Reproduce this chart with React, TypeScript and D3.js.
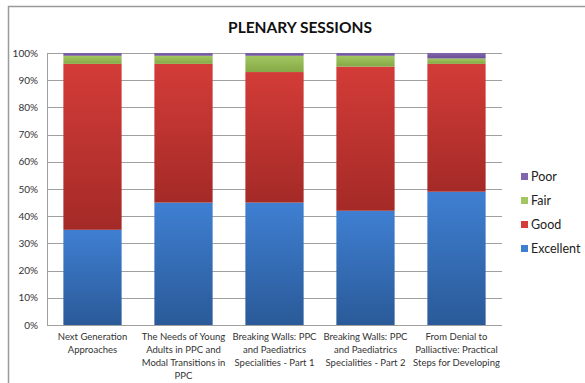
import React from "react";
import * as d3 from "d3";

const sessions = [
  ["Next Generation", "Approaches"],
  ["The Needs of Young", "Adults in PPC and", "Modal Transitions in", "PPC"],
  ["Breaking Walls: PPC", "and Paediatrics", "Specialities - Part 1"],
  ["Breaking Walls: PPC", "and Paediatrics", "Specialities - Part 2"],
  ["From Denial to", "Palliactive: Practical", "Steps for Developing"],
];
const excellent = [35, 45, 45, 42, 49];
const good = [61, 51, 48, 53, 47];
const fair = [3, 3, 6, 4, 2];
const poor = [1, 1, 1, 1, 2];
const seriesNames = ["Excellent", "Good", "Fair", "Poor"];
const yTicks = [0, 10, 20, 30, 40, 50, 60, 70, 80, 90, 100];

const colors: Record<string, [string, string]> = {
  Excellent: ["#3f7fd2", "#2a5a98"],
  Good: ["#d33c38", "#a42a27"],
  Fair: ["#a2c760", "#86a847"],
  Poor: ["#8165ad", "#6a4f94"],
};

const W = 585;
const H = 383;
const left = 47;
const right = 502;
const top = 53;
const bottom = 325;
const font = "Lato, 'Open Sans', sans-serif";

export default function App() {
  const x = d3
    .scaleBand<number>()
    .domain(d3.range(sessions.length))
    .range([left, right])
    .paddingInner(0.36)
    .paddingOuter(0.18);
  const y = d3.scaleLinear().domain([0, 100]).range([bottom, top]);

  const rows = sessions.map((_, i) => ({
    Excellent: excellent[i],
    Good: good[i],
    Fair: fair[i],
    Poor: poor[i],
  }));
  const stacked = d3.stack<any>().keys(seriesNames)(rows);

  return (
    <svg
      width={W}
      height={H}
      style={{ position: "absolute", left: 0, top: 0, background: "#fff" }}
    >
      <defs>
        {seriesNames.map((s) => (
          <linearGradient key={s} id={`g-${s}`} x1="0" y1="0" x2="0" y2="1">
            <stop offset="0" stopColor={colors[s][0]} />
            <stop offset="1" stopColor={colors[s][1]} />
          </linearGradient>
        ))}
      </defs>
      <rect x={0} y={0} width={W} height={H} fill="#fff" />
      {/* chart frame */}
      <rect
        x={8.5}
        y={6.5}
        width={W + 10}
        height={H + 10}
        fill="none"
        stroke="#9a9a9a"
        strokeWidth={1.5}
      />
      <text
        x={300}
        y={33}
        textAnchor="middle"
        fontFamily={font}
        fontWeight="bold"
        fontSize={15.5}
        fill="#111"
      >
        PLENARY SESSIONS
      </text>

      {/* gridlines and y labels */}
      {yTicks.map((t) => (
        <g key={t}>
          <line
            x1={left}
            x2={right}
            y1={Math.round(y(t)) + 0.5}
            y2={Math.round(y(t)) + 0.5}
            stroke="#a0a0a0"
            strokeWidth={1}
          />
          <text
            x={38}
            y={y(t) + 3.5}
            textAnchor="end"
            fontFamily={font}
            fontSize={10}
            fill="#333"
          >
            {t}%
          </text>
        </g>
      ))}
      <line x1={left + 0.5} x2={left + 0.5} y1={top} y2={bottom} stroke="#a0a0a0" />

      {/* stacked bars */}
      {stacked.map((layer) => (
        <g key={layer.key} fill={`url(#g-${layer.key})`}>
          {layer.map((d, i) => (
            <rect
              key={i}
              x={x(i)}
              y={y(d[1])}
              width={x.bandwidth()}
              height={y(d[0]) - y(d[1])}
            />
          ))}
        </g>
      ))}

      {/* category labels */}
      {sessions.map((lines, i) => (
        <text
          key={i}
          x={(x(i) as number) + x.bandwidth() / 2}
          y={340}
          textAnchor="middle"
          fontFamily={font}
          fontSize={9.5}
          fill="#333"
        >
          {lines.map((l, j) => (
            <tspan key={j} x={(x(i) as number) + x.bandwidth() / 2} dy={j === 0 ? 0 : 13}>
              {l}
            </tspan>
          ))}
        </text>
      ))}

      {/* legend */}
      {[...seriesNames].reverse().map((s, k) => (
        <g key={s} transform={`translate(521, ${173 + k * 24})`}>
          <rect width={7} height={7} fill={colors[s][0]} />
          <text x={10} y={8} fontFamily={font} fontSize={12.5} fill="#222">
            {s}
          </text>
        </g>
      ))}
    </svg>
  );
}
